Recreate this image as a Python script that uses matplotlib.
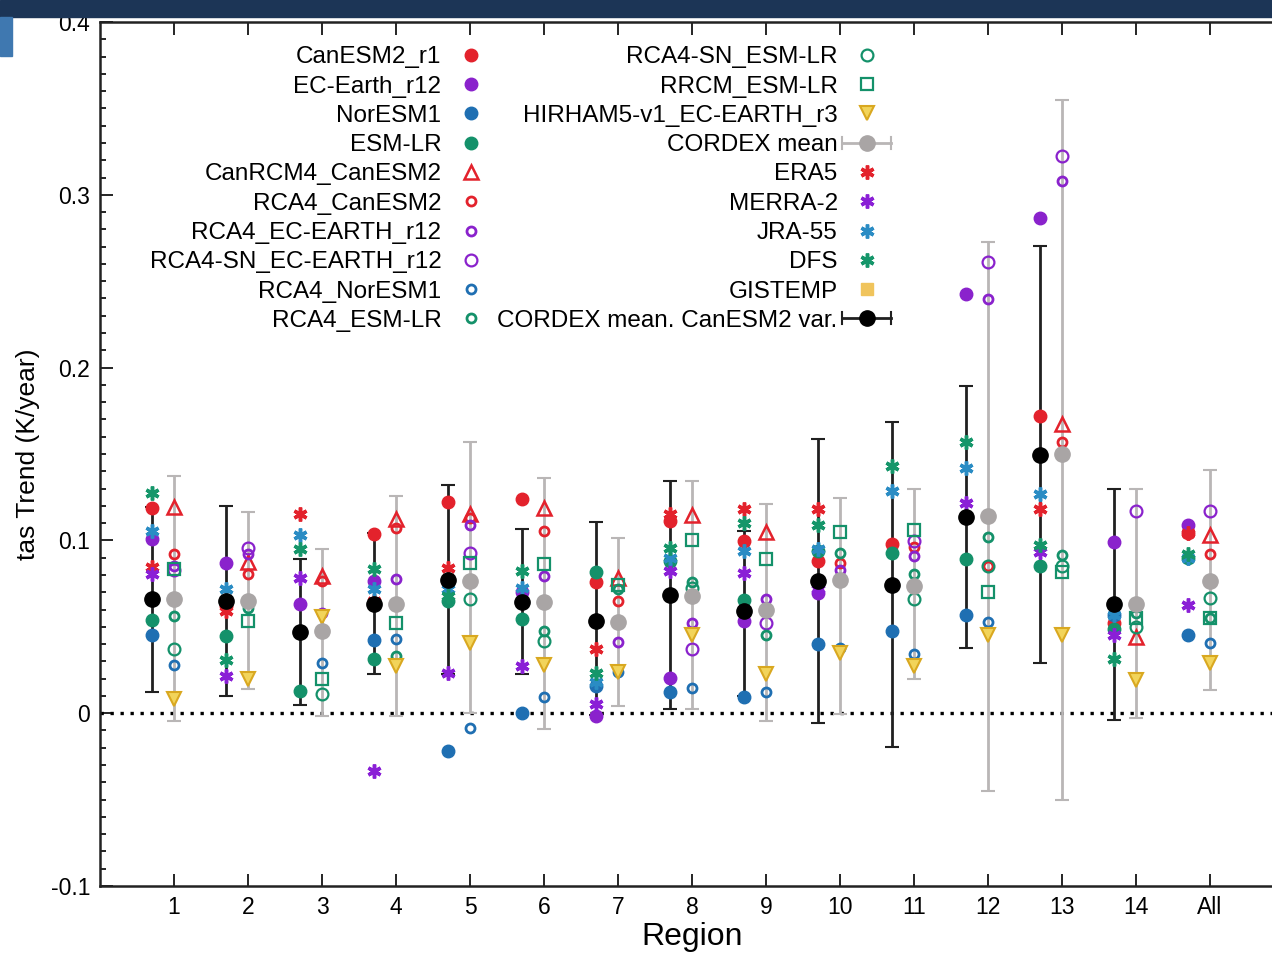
import matplotlib
matplotlib.use("Agg")
import matplotlib.pyplot as plt
import numpy as np
from matplotlib.lines import Line2D
from matplotlib.patches import Rectangle
from matplotlib.legend_handler import HandlerBase
from matplotlib.container import ErrorbarContainer

plt.rcParams['font.family'] = ['Liberation Sans', 'DejaVu Sans']

nan = np.nan
regions = ['1', '2', '3', '4', '5', '6', '7', '8', '9', '10', '11', '12', '13', '14', 'All']

# driving GCMs (left column, filled circles)
canesm2 = [0.119, 0.062, 0.047, 0.1035, 0.122, 0.124, 0.076, 0.111, 0.0997, 0.088, 0.0977, 0.1134, 0.172, 0.052, 0.1045]
ec_earth = [0.1006, 0.0867, 0.063, 0.0765, 0.0769, 0.070, -0.0015, 0.0206, 0.0533, 0.0697, 0.074, 0.2428, 0.2865, 0.099, 0.1087]
noresm1 = [0.0451, 0.0649, 0.047, 0.0424, -0.0218, 0.0004, 0.0158, 0.0123, 0.0091, 0.0399, 0.0476, 0.0569, 0.1496, 0.057, 0.0451]
esm_lr = [0.0539, 0.0447, 0.0127, 0.0316, 0.065, 0.0547, 0.0816, 0.088, 0.0653, 0.0939, 0.0927, 0.0893, 0.0851, 0.049, 0.090]

# RCMs (right column)
canrcm4 = [0.1195, 0.0875, 0.0794, 0.1121, 0.115, 0.1189, 0.078, 0.1145, 0.1049, nan, nan, nan, 0.1676, 0.0442, 0.1031]
rca4_canesm2 = [0.0919, 0.0803, 0.0765, 0.1073, 0.113, 0.1054, 0.0649, 0.0678, 0.0597, 0.087, 0.096, 0.0851, 0.1571, 0.063, 0.0921]
rca4_ec = [0.085, 0.092, 0.0582, 0.0775, 0.1092, 0.0794, 0.0412, 0.0524, 0.0659, 0.083, 0.091, 0.2395, 0.3079, 0.063, 0.0763]
rca4sn_ec = [0.083, 0.0956, 0.0476, 0.063, 0.0929, 0.0643, 0.0529, 0.0374, 0.0524, 0.0769, 0.0997, 0.2614, 0.3223, 0.117, 0.117]
rca4_noresm1 = [0.0277, 0.0649, 0.0293, 0.043, -0.0083, 0.0096, 0.0239, 0.0148, 0.0123, 0.038, 0.0341, 0.0525, 0.1502, 0.063, 0.0409]
rca4_esm_lr = [0.0562, 0.0607, 0.0476, 0.0331, 0.0765, 0.0476, 0.0717, 0.0759, 0.0451, 0.0925, 0.0803, 0.1017, 0.0913, 0.058, 0.0553]
rca4sn_esm_lr = [0.037, 0.0649, 0.011, 0.063, 0.0659, 0.0418, 0.0529, 0.0726, 0.0597, 0.0769, 0.0659, 0.0851, 0.0851, 0.050, 0.0664]
rrcm_esm_lr = [0.0832, 0.0533, 0.0197, 0.0524, 0.0871, 0.0861, 0.074, 0.1002, 0.0893, 0.1049, 0.1058, 0.0699, 0.0816, 0.055, 0.0553]
hirham5 = [0.0081, 0.0197, 0.0555, 0.0273, 0.0409, 0.0277, 0.0239, 0.0451, 0.0225, 0.035, 0.0273, 0.0451, 0.0451, 0.0193, 0.0292]

# CORDEX ensemble mean with spread
cordex_mean = [0.0659, 0.0649, 0.0476, 0.063, 0.0765, 0.0643, 0.0529, 0.0678, 0.0597, 0.0769, 0.0736, 0.1142, 0.1502, 0.063, 0.0763]
cordex_lo = [-0.0044, 0.0139, -0.0015, -0.0015, 0.0004, -0.0092, 0.0042, 0.0023, -0.0044, -0.0006, 0.0197, -0.0449, -0.0504, -0.0026, 0.0132]
cordex_hi = [0.1372, 0.1164, 0.0952, 0.1256, 0.1568, 0.1362, 0.1015, 0.1341, 0.1208, 0.1247, 0.1295, 0.2724, 0.3549, 0.130, 0.141]

# CORDEX mean with CanESM2 internal variability
canvar_mean = [0.0659, 0.0649, 0.047, 0.063, 0.0769, 0.0643, 0.0533, 0.0682, 0.0591, 0.0765, 0.074, 0.1134, 0.1496, 0.063, nan]
canvar_lo = [0.012, 0.010, 0.0046, 0.0225, 0.0225, 0.0225, -0.001, 0.0023, 0.010, -0.0054, -0.0198, 0.0376, 0.0292, -0.0039, nan]
canvar_hi = [0.1195, 0.1198, 0.089, 0.1044, 0.1318, 0.1064, 0.1106, 0.1341, 0.1054, 0.1584, 0.1684, 0.1895, 0.2705, 0.130, nan]

# observations / reanalyses (left column)
era5 = [0.0848, 0.0591, 0.115, 0.065, 0.0842, 0.0643, 0.037, 0.115, 0.1179, 0.1179, 0.074, 0.1134, 0.1184, 0.063, 0.1045]
merra2 = [0.0803, 0.0216, 0.078, -0.0333, 0.0235, 0.0273, 0.0052, 0.0822, 0.0813, 0.072, 0.074, 0.1217, 0.0935, 0.045, 0.0625]
jra55 = [0.1054, 0.0717, 0.103, 0.0717, 0.072, 0.0726, 0.018, 0.090, 0.0939, 0.095, 0.1285, 0.142, 0.1266, 0.057, 0.090]
dfs = [0.1276, 0.0308, 0.095, 0.0832, 0.068, 0.0822, 0.0235, 0.0956, 0.1102, 0.1092, 0.1429, 0.1571, 0.0976, 0.0312, 0.0921]
gistemp = [nan] * 15

RED = '#e3222c'
PURPLE = '#8a22cc'
BLUE = '#1f6fb2'
GREEN = '#14916a'
GRAY = '#a9a5a5'

pos = np.arange(1, len(regions) + 1)
xl = pos - 0.3
xr = pos

fig = plt.figure(figsize=(12.72, 9.56), dpi=100)
ax = fig.add_axes([100 / 1272, 70 / 956, 1184 / 1272, 864 / 956])

ax.axhline(0, color='k', ls=(0, (1, 2.0)), lw=2.4, zorder=1)

# error bars
eb_gray = ax.errorbar(xr, cordex_mean,
                      yerr=[np.array(cordex_mean) - np.array(cordex_lo), np.array(cordex_hi) - np.array(cordex_mean)],
                      fmt='o', color=GRAY, ms=11, ecolor='#b9b6b6', elinewidth=2, capsize=5, capthick=1.5,
                      zorder=2, label='CORDEX mean')
eb_black = ax.errorbar(xl, canvar_mean,
                       yerr=[np.array(canvar_mean) - np.array(canvar_lo), np.array(canvar_hi) - np.array(canvar_mean)],
                       fmt='o', color='k', ms=11, ecolor='#202020', elinewidth=2, capsize=5, capthick=1.5,
                       zorder=2, label='CORDEX mean. CanESM2 var.')
for c in (eb_gray, eb_black):
    c.lines[0].set_zorder(5)

ast = (6, 2, 0)
h = {}
h['CanESM2_r1'], = ax.plot(xl, canesm2, 'o', color=RED, ms=9, ls='none', zorder=3)
h['EC-Earth_r12'], = ax.plot(xl, ec_earth, 'o', color=PURPLE, ms=9, ls='none', zorder=3)
h['NorESM1'], = ax.plot(xl, noresm1, 'o', color=BLUE, ms=9, ls='none', zorder=3)
h['ESM-LR'], = ax.plot(xl, esm_lr, 'o', color=GREEN, ms=9, ls='none', zorder=3)
h['CanRCM4_CanESM2'], = ax.plot(xr, canrcm4, '^', mfc='none', mec=RED, ms=10, mew=1.8, ls='none', zorder=3)
h['RCA4_CanESM2'], = ax.plot(xr, rca4_canesm2, 'o', mfc='none', mec=RED, ms=6.5, mew=2, ls='none', zorder=3)
h['RCA4_EC-EARTH_r12'], = ax.plot(xr, rca4_ec, 'o', mfc='none', mec=PURPLE, ms=6.5, mew=2, ls='none', zorder=3)
h['RCA4-SN_EC-EARTH_r12'], = ax.plot(xr, rca4sn_ec, 'o', mfc='none', mec=PURPLE, ms=8.5, mew=1.6, ls='none', zorder=3)
h['RCA4_NorESM1'], = ax.plot(xr, rca4_noresm1, 'o', mfc='none', mec=BLUE, ms=6.5, mew=2, ls='none', zorder=3)
h['RCA4_ESM-LR'], = ax.plot(xr, rca4_esm_lr, 'o', mfc='none', mec=GREEN, ms=6.5, mew=2, ls='none', zorder=3)
h['RCA4-SN_ESM-LR'], = ax.plot(xr, rca4sn_esm_lr, 'o', mfc='none', mec=GREEN, ms=8.5, mew=1.6, ls='none', zorder=3)
h['RRCM_ESM-LR'], = ax.plot(xr, rrcm_esm_lr, 's', mfc='none', mec=GREEN, ms=8.5, mew=1.6, ls='none', zorder=3)
h['HIRHAM5-v1_EC-EARTH_r3'], = ax.plot(xr, hirham5, 'v', mfc='#f2d45a', mec='#d9a820', ms=10, mew=1.5, ls='none', zorder=3)
h['ERA5'], = ax.plot(xl, era5, marker=ast, color=RED, ms=10, mew=2.5, ls='none', zorder=3)
h['MERRA-2'], = ax.plot(xl, merra2, marker=ast, color='#8a1fd6', ms=10, mew=2.5, ls='none', zorder=3)
h['JRA-55'], = ax.plot(xl, jra55, marker=ast, color='#2a8cc4', ms=10, mew=2.5, ls='none', zorder=3)
h['DFS'], = ax.plot(xl, dfs, marker=ast, color='#15966a', ms=10, mew=2.5, ls='none', zorder=3)
h['GISTEMP'], = ax.plot(xl, gistemp, 's', color='#f0c45c', ms=8, ls='none', zorder=3)


class CapLineHandler(HandlerBase):
    def create_artists(self, legend, orig_handle, xdescent, ydescent, width, height, fontsize, trans):
        mk = orig_handle.lines[0]
        col = orig_handle.lines[2][0].get_color()[0]
        y = (height - ydescent) / 2
        x0, x1 = -xdescent, -xdescent + width
        c = height * 0.35
        arts = [Line2D([x0, x1], [y, y], color=col, lw=2),
                Line2D([x0, x0], [y - c, y + c], color=col, lw=1.5),
                Line2D([x1, x1], [y - c, y + c], color=col, lw=1.5),
                Line2D([(x0 + x1) / 2], [y], marker='o', ms=mk.get_markersize(),
                       color=mk.get_markerfacecolor(), ls='none')]
        for a in arts:
            a.set_transform(trans)
        return arts


col1 = ['CanESM2_r1', 'EC-Earth_r12', 'NorESM1', 'ESM-LR', 'CanRCM4_CanESM2', 'RCA4_CanESM2',
        'RCA4_EC-EARTH_r12', 'RCA4-SN_EC-EARTH_r12', 'RCA4_NorESM1', 'RCA4_ESM-LR']
col2 = ['RCA4-SN_ESM-LR', 'RRCM_ESM-LR', 'HIRHAM5-v1_EC-EARTH_r3', 'CORDEX mean', 'ERA5', 'MERRA-2',
        'JRA-55', 'DFS', 'GISTEMP', 'CORDEX mean. CanESM2 var.']
handles = [h[k] for k in col1]
for k in col2:
    if k == 'CORDEX mean':
        handles.append(eb_gray)
    elif k == 'CORDEX mean. CanESM2 var.':
        handles.append(eb_black)
    else:
        handles.append(h[k])
ax.legend(handles, col1 + col2, ncol=2, markerfirst=False, frameon=False, loc='upper left',
          bbox_to_anchor=(0.042, 0.972), borderaxespad=0, borderpad=0, fontsize=17.5,
          handlelength=2.0, handletextpad=0.2, columnspacing=0.1, labelspacing=0.3,
          handler_map={ErrorbarContainer: CapLineHandler()})

ax.set_xlim(0, 16)
ax.set_ylim(-0.1, 0.4)
ax.set_xticks(pos)
ax.set_xticklabels(regions)
ax.set_yticks([-0.1, 0, 0.1, 0.2, 0.3, 0.4])
ax.set_yticklabels(['-0.1', '0', '0.1', '0.2', '0.3', '0.4'])
ax.set_yticks(np.arange(-0.1, 0.4001, 0.01), minor=True)
ax.tick_params(which='both', direction='in', top=True, right=True, labelsize=16.5, width=1.2)
ax.tick_params(which='major', length=9, pad=7)
ax.tick_params(which='minor', length=4)
ax.tick_params(axis='x', which='minor', bottom=False, top=False)
for s in ax.spines.values():
    s.set_linewidth(1.8)
    s.set_color('#222222')
ax.set_xlabel('Region', fontsize=23, labelpad=2)
ax.set_ylabel('tas Trend (K/year)', fontsize=19, labelpad=8)

# screenshot frame bits
fig.patches.append(Rectangle((0, 1 - 17 / 956), 1, 17 / 956, transform=fig.transFigure,
                             color='#1c3556', zorder=10))
fig.patches.append(Rectangle((0, 1 - 56 / 956), 12 / 1272, 39 / 956, transform=fig.transFigure,
                             color='#3f78b0', zorder=10))

fig.savefig('out.png', dpi=100)
